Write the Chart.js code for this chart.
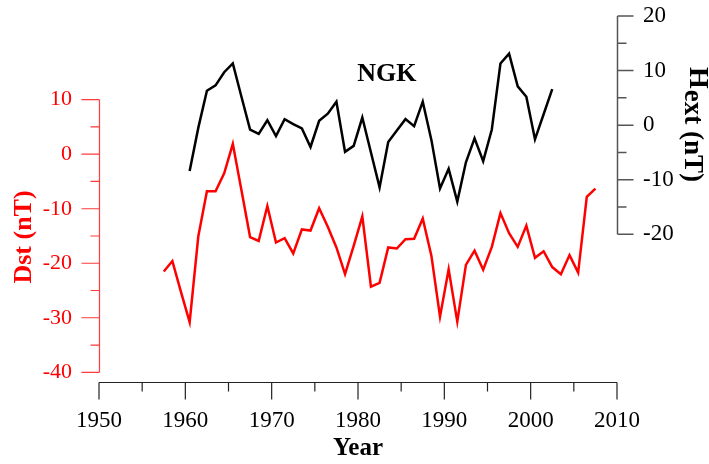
<!DOCTYPE html>
<html lang="en">
<head>
<meta charset="UTF-8">
<title>NGK Dst and Hext</title>
<script src="https://cdn.jsdelivr.net/npm/chart.js"></script>
<style>
  html, body { margin: 0; padding: 0; background: #fff; }
  #wrap { width: 709px; height: 464px; }
</style>
</head>
<body>
<div id="wrap"><canvas id="chart" width="709" height="464"></canvas></div>
<script>
// annual means, plotted at mid-year
const dstYears = [1957.5, 1958.5, 1959.5, 1960.5, 1961.5, 1962.5, 1963.5, 1964.5, 1965.5, 1966.5,
  1967.5, 1968.5, 1969.5, 1970.5, 1971.5, 1972.5, 1973.5, 1974.5, 1975.5, 1976.5,
  1977.5, 1978.5, 1979.5, 1980.5, 1981.5, 1982.5, 1983.5, 1984.5, 1985.5, 1986.5,
  1987.5, 1988.5, 1989.5, 1990.5, 1991.5, 1992.5, 1993.5, 1994.5, 1995.5, 1996.5,
  1997.5, 1998.5, 1999.5, 2000.5, 2001.5, 2002.5, 2003.5, 2004.5, 2005.5, 2006.5, 2007.5];
const dstValues = [-21.5, -19.6, -25.3, -30.8, -15.1, -6.8, -6.8, -3.5, 1.9, -6.6,
  -15.2, -15.9, -9.5, -16.2, -15.4, -18.2, -13.8, -14.0, -9.9, -13.3,
  -17.1, -22.0, -16.8, -11.4, -24.3, -23.6, -17.1, -17.3, -15.6, -15.5,
  -11.8, -18.6, -29.8, -21.1, -30.7, -20.3, -17.7, -21.2, -17.0, -10.8,
  -14.5, -17.0, -13.1, -19.0, -17.8, -20.7, -22.0, -18.5, -21.7, -7.8, -6.3];

const hextYears = [1960.5, 1961.5, 1962.5, 1963.5, 1964.5, 1965.5, 1966.5, 1967.5, 1968.5, 1969.5,
  1970.5, 1971.5, 1972.5, 1973.5, 1974.5, 1975.5, 1976.5, 1977.5, 1978.5, 1979.5,
  1980.5, 1981.5, 1982.5, 1983.5, 1984.5, 1985.5, 1986.5, 1987.5, 1988.5, 1989.5,
  1990.5, 1991.5, 1992.5, 1993.5, 1994.5, 1995.5, 1996.5, 1997.5, 1998.5, 1999.5,
  2000.5, 2001.5, 2002.5];
const hextValues = [-8.4, -0.5, 6.3, 7.3, 9.7, 11.3, 5.2, -0.8, -1.6, 0.9,
  -2.0, 1.1, 0.2, -0.6, -4.0, 0.8, 2.1, 4.3, -4.9, -3.8,
  1.4, -5.0, -11.4, -3.1, -1.0, 1.1, -0.2, 4.3, -2.7, -11.6,
  -8.0, -14.0, -6.8, -2.4, -6.6, -0.8, 11.3, 13.1, 7.1, 5.2,
  -2.6, 2.0, 6.6];

const yearTicks = [1950, 1960, 1970, 1980, 1990, 2000, 2010];
const yearMinorTicks = [1955, 1965, 1975, 1985, 1995, 2005];
const dstTicks = [-40, -30, -20, -10, 0, 10];
const dstMinorTicks = [-35, -25, -15, -5, 5];
const hextTicks = [-20, -10, 0, 10, 20];
const hextMinorTicks = [-15, -5, 5, 15];
const stationLabel = 'NGK';

const serif = '"Liberation Serif", "Times New Roman", serif';

function toPoints(xs, ys) {
  return xs.map((x, i) => ({ x: x, y: ys[i] }));
}

// keep the plot box fixed: no extra room for overhanging labels
function noEdgePadding(s) {
  s.paddingTop = 0;
  s.paddingBottom = 0;
  s.paddingLeft = 0;
  s.paddingRight = 0;
}

// axis lines, tick marks and rotated titles drawn from the scales
const axisDecor = {
  id: 'axisDecor',
  afterDraw(chart) {
    const ctx = chart.ctx;
    const area = chart.chartArea;
    const xs = chart.scales.x, yd = chart.scales.yDst, yh = chart.scales.yHext;
    ctx.save();

    // left (Dst) axis
    const lx = Math.round(area.left) + 0.5;
    ctx.strokeStyle = '#ff3b3b';
    ctx.lineWidth = 1.2;
    ctx.beginPath();
    ctx.moveTo(lx, yd.getPixelForValue(dstTicks[dstTicks.length - 1]));
    ctx.lineTo(lx, yd.getPixelForValue(dstTicks[0]));
    dstTicks.forEach(v => { const p = yd.getPixelForValue(v); ctx.moveTo(lx - 18, p); ctx.lineTo(lx, p); });
    dstMinorTicks.forEach(v => { const p = yd.getPixelForValue(v); ctx.moveTo(lx - 9, p); ctx.lineTo(lx, p); });
    ctx.stroke();

    // right (Hext) axis
    const rx = Math.round(area.right) + 0.5;
    ctx.strokeStyle = '#555';
    ctx.lineWidth = 1.5;
    ctx.beginPath();
    ctx.moveTo(rx, yh.getPixelForValue(hextTicks[hextTicks.length - 1]));
    ctx.lineTo(rx, yh.getPixelForValue(hextTicks[0]));
    hextTicks.forEach(v => { const p = yh.getPixelForValue(v); ctx.moveTo(rx, p); ctx.lineTo(rx + 16, p); });
    hextMinorTicks.forEach(v => { const p = yh.getPixelForValue(v); ctx.moveTo(rx, p); ctx.lineTo(rx + 9, p); });
    ctx.stroke();

    // bottom (year) axis
    const by = Math.round(area.bottom) + 0.5;
    ctx.strokeStyle = '#222';
    ctx.lineWidth = 1.2;
    ctx.beginPath();
    ctx.moveTo(xs.getPixelForValue(yearTicks[0]), by);
    ctx.lineTo(xs.getPixelForValue(yearTicks[yearTicks.length - 1]), by);
    yearTicks.forEach(v => { const p = xs.getPixelForValue(v); ctx.moveTo(p, by); ctx.lineTo(p, by + 17); });
    yearMinorTicks.forEach(v => { const p = xs.getPixelForValue(v); ctx.moveTo(p, by); ctx.lineTo(p, by + 9); });
    ctx.stroke();

    // Dst title
    ctx.fillStyle = '#ff0000';
    ctx.font = 'bold 26px ' + serif;
    ctx.textAlign = 'center';
    ctx.textBaseline = 'alphabetic';
    ctx.save();
    ctx.translate(31, 237);
    ctx.rotate(-Math.PI / 2);
    ctx.fillText('Dst (nT)', 0, 0);
    ctx.restore();

    // Hext title, with subscript
    ctx.fillStyle = '#000';
    ctx.textAlign = 'left';
    ctx.save();
    ctx.translate(690, 67);
    ctx.rotate(Math.PI / 2);
    ctx.font = 'bold 28px ' + serif;
    ctx.fillText('H', 0, 0);
    const hw = ctx.measureText('H').width;
    ctx.font = 'bold 27px ' + serif;
    ctx.fillText('ext (nT)', hw + 1, 5);
    ctx.restore();

    // station label
    ctx.font = 'bold 26px ' + serif;
    ctx.fillText(stationLabel, xs.getPixelForValue(1979.9), yh.getPixelForValue(8.0));

    ctx.restore();
  }
};

new Chart(document.getElementById('chart'), {
  type: 'line',
  data: {
    datasets: [
      {
        label: 'Dst',
        data: toPoints(dstYears, dstValues),
        yAxisID: 'yDst',
        borderColor: '#ff0000',
        borderWidth: 2.5,
        pointRadius: 0,
        tension: 0
      },
      {
        label: 'Hext',
        data: toPoints(hextYears, hextValues),
        yAxisID: 'yHext',
        borderColor: '#000000',
        borderWidth: 2.5,
        pointRadius: 0,
        tension: 0
      }
    ]
  },
  options: {
    responsive: false,
    animation: false,
    devicePixelRatio: 1,
    layout: { padding: { top: 16, left: 0, right: 0, bottom: 0 } },
    plugins: { legend: { display: false }, tooltip: { enabled: false } },
    scales: {
      x: {
        type: 'linear',
        position: 'bottom',
        min: 1950,
        max: 2010,
        afterBuildTicks: s => { s.ticks = yearTicks.map(v => ({ value: v })); },
        afterFit: s => { s.height = 82; noEdgePadding(s); },
        grid: { display: false, drawTicks: true, tickLength: 17 },
        border: { display: false },
        ticks: {
          autoSkip: false,
          maxRotation: 0,
          padding: 8,
          color: '#000',
          font: { family: serif, size: 23 },
          callback: v => String(v)
        },
        title: {
          display: true,
          text: 'Year',
          color: '#000',
          font: { family: serif, size: 25, weight: 'bold' },
          padding: { top: 0, bottom: 0 }
        }
      },
      yDst: {
        type: 'linear',
        position: 'left',
        min: -41.78,
        max: 25.35,
        afterBuildTicks: s => { s.ticks = dstTicks.map(v => ({ value: v })); },
        afterFit: s => { s.width = 99; noEdgePadding(s); },
        grid: { display: false, drawTicks: true, tickLength: 18 },
        border: { display: false },
        ticks: {
          autoSkip: false,
          padding: 9,
          color: '#ff0000',
          font: { family: serif, size: 22 },
          callback: v => String(v)
        }
      },
      yHext: {
        type: 'linear',
        position: 'right',
        min: -47.06,
        max: 20,
        afterBuildTicks: s => { s.ticks = hextTicks.map(v => ({ value: v })); },
        afterFit: s => { s.width = 92; noEdgePadding(s); },
        grid: { display: false, drawTicks: true, tickLength: 16 },
        border: { display: false },
        ticks: {
          autoSkip: false,
          padding: 10,
          color: '#000',
          font: { family: serif, size: 23 },
          callback: v => String(v)
        }
      }
    }
  },
  plugins: [axisDecor]
});
</script>
</body>
</html>
